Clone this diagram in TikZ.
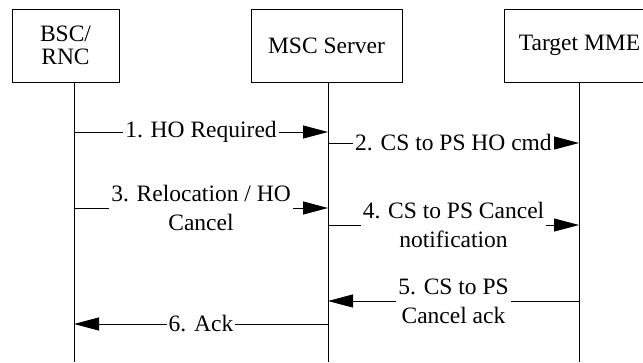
\documentclass[tikz,border=0pt]{standalone}
\usepackage{fontspec}
\setmainfont{Liberation Serif}
\usetikzlibrary{arrows.meta,positioning}

\tikzset{
  entity/.style={draw,line width=0.9pt,minimum height=73pt,align=center,font=\fontsize{23.5}{23.5}\selectfont},
  lifeline/.style={line width=1pt},
  msg/.style={line width=1pt,-{Triangle[length=25pt,width=13pt]}},
  msglabel/.style={fill=white,inner sep=2pt,align=center,font=\fontsize{23.5}{29}\selectfont}
}

\begin{document}
\begin{tikzpicture}[x=1pt,y=-1pt]
    \useasboundingbox (0,0) rectangle (643,362);

    \node (bsc) at (65.5,45.5) [entity,minimum width=107pt] {BSC/\\RNC};
    \node (msc) at (326.5,45.5) [entity,minimum width=151pt] {MSC Server};
    \node (mme) at (579.5,45.5) [entity,minimum width=151pt] {Target MME};

    \coordinate (bscend) at (74,362);
    \coordinate (mscend) at (328,362);
    \coordinate (mmeend) at (579,362);
    \draw[lifeline] (bsc.south -| bscend) -- (bscend);
    \draw[lifeline] (msc.south -| mscend) -- (mscend);
    \draw[lifeline] (mme.south -| mmeend) -- (mmeend);

    \coordinate (m1) at (0,132);
    \coordinate (m2) at (0,143);
    \coordinate (m3) at (0,208);
    \coordinate (m4) at (0,225);
    \coordinate (m5) at (0,301);
    \coordinate (m6) at (0,324);

    \draw[msg] (bscend |- m1) -- node[msglabel] {1. HO Required} (mscend |- m1);
    \draw[msg] (mscend |- m2) -- node[msglabel] {2. CS to PS HO cmd} (mmeend |- m2);
    \draw[msg] (bscend |- m3) -- node[msglabel] {3. Relocation / HO\\Cancel} (mscend |- m3);
    \draw[msg] (mscend |- m4) -- node[msglabel] {4. CS to PS Cancel\\notification} (mmeend |- m4);
    \draw[msg] (mmeend |- m5) -- node[msglabel] {5. CS to PS\\Cancel ack} (mscend |- m5);
    \draw[msg] (mscend |- m6) -- node[msglabel] {6. Ack} (bscend |- m6);

\end{tikzpicture}
\end{document}
